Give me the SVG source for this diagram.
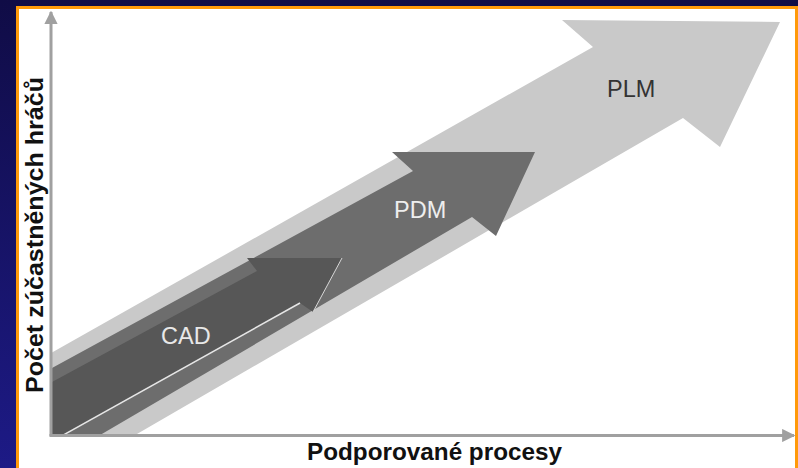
<svg xmlns="http://www.w3.org/2000/svg" width="798" height="468" viewBox="0 0 798 468">
  <defs>
    <linearGradient id="frameGrad" x1="0" y1="0" x2="0" y2="1">
      <stop offset="0" stop-color="#100c46"/>
      <stop offset="1" stop-color="#1d1a86"/>
    </linearGradient>
    <clipPath id="plotArea">
      <rect x="52" y="0" width="746" height="434"/>
    </clipPath>
    <marker id="axisHead" viewBox="0 0 10 10" refX="9" refY="5" markerWidth="4.4" markerHeight="4.4" orient="auto" markerUnits="strokeWidth">
      <path d="M0,0 L10,5 L0,10 Z" fill="#a0a0a0"/>
    </marker>
  </defs>
  <style>
    .axis { stroke: #a0a0a0; stroke-width: 3; fill: none; }
    .axisLabel { font-family: "Liberation Sans", Arial, sans-serif; font-weight: bold; font-size: 24px; fill: #111111; }
    .stageLabel { font-family: "Liberation Sans", Arial, sans-serif; font-size: 23.5px; }
    .plm { fill: #c9c9c9; }
    .pdm { fill: #6d6d6d; }
    .cad { fill: #575757; }
  </style>

  <!-- frame -->
  <rect x="0" y="0" width="798" height="468" fill="url(#frameGrad)"/>
  <rect x="16" y="6" width="782" height="462" fill="#ff9a0a"/>
  <rect x="19" y="9" width="776" height="459" fill="#ffffff"/>

  <!-- stage arrows -->
  <g clip-path="url(#plotArea)">
    <g id="plm">
      <polygon class="plm" points="20,370.6 593,47 562,20 780,22 720,147 683,118 20,501.7"/>
      <text class="stageLabel" x="607" y="97" fill="#333333">PLM</text>
    </g>
    <g id="pdm">
      <polygon class="pdm" points="20,385.5 413,171 392,152 535,152 496,236 472,217 20,482"/>
      <text class="stageLabel" x="394" y="218" fill="#eeeeee">PDM</text>
    </g>
    <g id="cad">
      <polygon class="cad" points="20,399.3 257,271 247,258 342,258 313,312 300,303 20,459.2"/>
      <polyline points="20,459.2 300,303" stroke="#e6e6e6" stroke-width="1.5" fill="none"/>
      <polyline points="342,258 313,312" stroke="#d8d8d8" stroke-width="1" fill="none"/>
      <text class="stageLabel" x="161" y="344" fill="#e8e8e8">CAD</text>
    </g>
  </g>

  <!-- axes -->
  <g id="connectors">
    <line class="axis" x1="51" y1="436" x2="51" y2="12" marker-end="url(#axisHead)"/>
    <line class="axis" x1="49.5" y1="435.5" x2="794" y2="435.5" marker-end="url(#axisHead)"/>
  </g>

  <!-- axis titles -->
  <g id="yTitle">
    <text class="axisLabel" transform="translate(43,235) rotate(-90)" text-anchor="middle" textLength="316" lengthAdjust="spacingAndGlyphs">Počet zúčastněných hráčů</text>
  </g>
  <g id="xTitle">
    <text class="axisLabel" x="434.5" y="460" text-anchor="middle" textLength="255" lengthAdjust="spacingAndGlyphs">Podporované procesy</text>
  </g>
</svg>
